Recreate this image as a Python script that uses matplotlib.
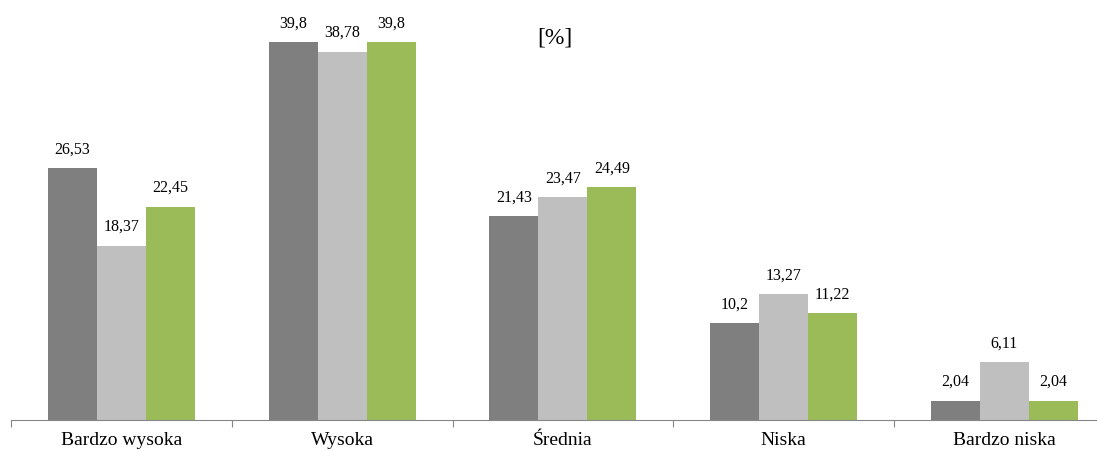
import numpy as np
import matplotlib.pyplot as plt

plt.rcParams['font.family'] = ['Liberation Serif', 'DejaVu Serif']

categories = ['Bardzo wysoka', 'Wysoka', 'Średnia', 'Niska', 'Bardzo niska']
series1 = [26.53, 39.8, 21.43, 10.2, 2.04]
series2 = [18.37, 38.78, 23.47, 13.27, 6.11]
series3 = [22.45, 39.8, 24.49, 11.22, 2.04]
label1 = ['26,53', '39,8', '21,43', '10,2', '2,04']
label2 = ['18,37', '38,78', '23,47', '13,27', '6,11']
label3 = ['22,45', '39,8', '24,49', '11,22', '2,04']

colors = ['#7f7f7f', '#bfbfbf', '#9bbb59']

W, H = 1097, 452
fig = plt.figure(figsize=(W / 100, H / 100), dpi=100)
ymax = 44
px_per_unit = 378 / 39.8
ax = fig.add_axes([11 / W, 31 / H, 1103.75 / W, ymax * px_per_unit / H])

ind = np.arange(len(categories))
width = 0.222
for k, (vals, labs) in enumerate([(series1, label1), (series2, label2), (series3, label3)]):
    pos = ind + (k - 1) * width
    ax.bar(pos, vals, width=width, color=colors[k], linewidth=0)
    for x, v, t in zip(pos, vals, labs):
        ax.annotate(t, (x, v), xytext=(0, 8.5), textcoords='offset points',
                    ha='center', va='bottom', fontsize=11.5)

ax.set_xlim(-0.5, len(categories) - 0.5)
ax.set_ylim(0, ymax)
for s in ['top', 'right', 'left']:
    ax.spines[s].set_visible(False)
ax.spines['bottom'].set_color('#868686')
ax.set_yticks([])
ax.set_xticks(np.arange(-0.5, len(categories)), minor=False)
ax.set_xticklabels([])
ax.tick_params(axis='x', length=5, color='#868686', direction='out')
ax.set_xticks(ind, minor=True)
ax.set_xticklabels(categories, minor=True, fontsize=14)
ax.tick_params(axis='x', which='minor', length=0, pad=8)

fig.text(555 / W, 1 - 38 / H, '[%]', ha='center', va='center', fontsize=17)

plt.savefig('out.png', dpi=100)
